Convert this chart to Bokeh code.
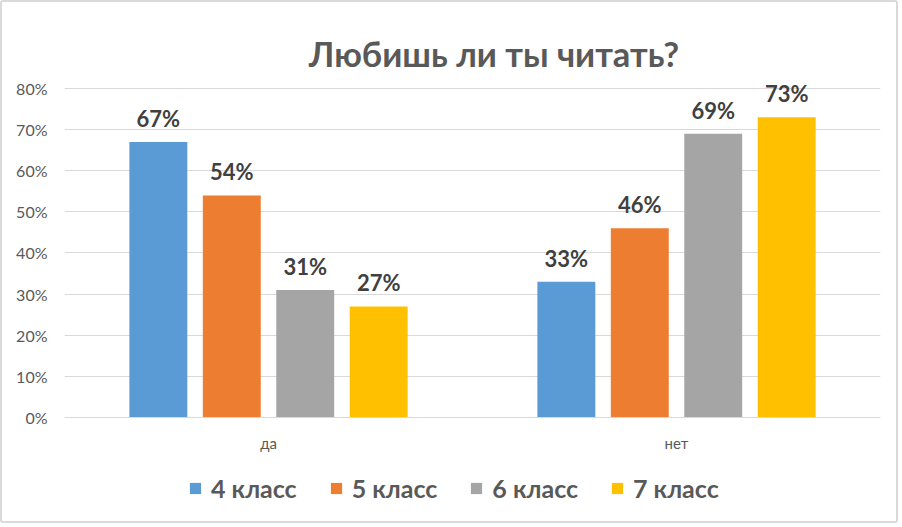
from bokeh.plotting import figure
from bokeh.models import (ColumnDataSource, FixedTicker, PrintfTickFormatter, Legend,
                          LegendItem, Label, LabelSet)
from bokeh.core.properties import value
from bokeh.transform import dodge
from bokeh.embed import file_html
from bokeh.resources import INLINE

title_text = "Любишь ли ты читать?"
categories = ["да", "нет"]
series = ["4 класс", "5 класс", "6 класс", "7 класс"]
values_4 = [67, 33]
values_5 = [54, 46]
values_6 = [31, 69]
values_7 = [27, 73]
colors = ["#5B9BD5", "#ED7D31", "#A5A5A5", "#FFC000"]
y_ticks = [0, 10, 20, 30, 40, 50, 60, 70, 80]

FONT = "Lato"

src = ColumnDataSource(dict(cat=categories, s4=values_4, s5=values_5, s6=values_6, s7=values_7,
                            l4=[f"{v}%" for v in values_4], l5=[f"{v}%" for v in values_5],
                            l6=[f"{v}%" for v in values_6], l7=[f"{v}%" for v in values_7]))

p = figure(x_range=categories, y_range=(-25.05, 100.9), width=898, height=523,
           output_backend="svg", toolbar_location=None,
           min_border_left=62, min_border_right=20, min_border_top=0, min_border_bottom=5)
p.styles = {"border": "2px solid #D9D9D9", "border-radius": "3px"}
p.outline_line_color = None
p.background_fill_color = "white"
p.border_fill_color = "white"

offsets = [-0.27, -0.09, 0.09, 0.27]
keys = ["s4", "s5", "s6", "s7"]
lkeys = ["l4", "l5", "l6", "l7"]
items = []
for key, lk, off, col, name in zip(keys, lkeys, offsets, colors, series):
    r = p.vbar(x=dodge("cat", off, range=p.x_range), top=key, width=0.142, source=src,
               fill_color=col, line_color=None)
    items.append(LegendItem(label=name, renderers=[r]))
    lbl = LabelSet(x=dodge("cat", off, range=p.x_range), y=key, text=lk, source=src,
                   text_align="center", text_baseline="bottom", y_offset=10,
                   text_font=value(FONT), text_font_size="22px", text_font_style="bold",
                   text_color="#404040")
    p.add_layout(lbl)

# axes
p.yaxis.ticker = FixedTicker(ticks=y_ticks)
p.yaxis.formatter = PrintfTickFormatter(format="%d%%")
p.yaxis.axis_line_color = None
p.yaxis.major_tick_line_color = None
p.yaxis.minor_tick_line_color = None
p.yaxis.major_tick_out = 0
p.yaxis.major_tick_in = 0
p.yaxis.major_label_standoff = 17
p.yaxis.major_label_text_font = FONT
p.yaxis.major_label_text_font_size = "16px"
p.yaxis.major_label_text_color = "#595959"

p.xaxis.fixed_location = 0
p.xaxis.axis_line_color = "#D9D9D9"
p.xaxis.major_tick_line_color = None
p.xaxis.minor_tick_line_color = None
p.xaxis.major_tick_out = 0
p.xaxis.major_tick_in = 0
p.xaxis.major_label_standoff = 17
p.xaxis.major_label_text_font = FONT
p.xaxis.major_label_text_font_size = "15px"
p.xaxis.major_label_text_color = "#595959"

p.xgrid.grid_line_color = None
p.ygrid.grid_line_color = "#D9D9D9"
p.ygrid.ticker = FixedTicker(ticks=y_ticks)

title = Label(x=1.0527, y=88.5, text=title_text, text_align="center", text_baseline="middle",
              text_font=FONT, text_font_size="34.5px", text_font_style="bold",
              text_color="#595959")
p.add_layout(title)

legend = Legend(items=items, orientation="horizontal", location=(124, 17),
                glyph_width=14, glyph_height=14, label_standoff=9, spacing=32,
                label_text_font=FONT, label_text_font_size="25px",
                label_text_font_style="bold", label_text_color="#595959",
                border_line_color=None, background_fill_alpha=0, padding=0, margin=0)
p.add_layout(legend)

open("out.html", "w").write(file_html(p, INLINE))
